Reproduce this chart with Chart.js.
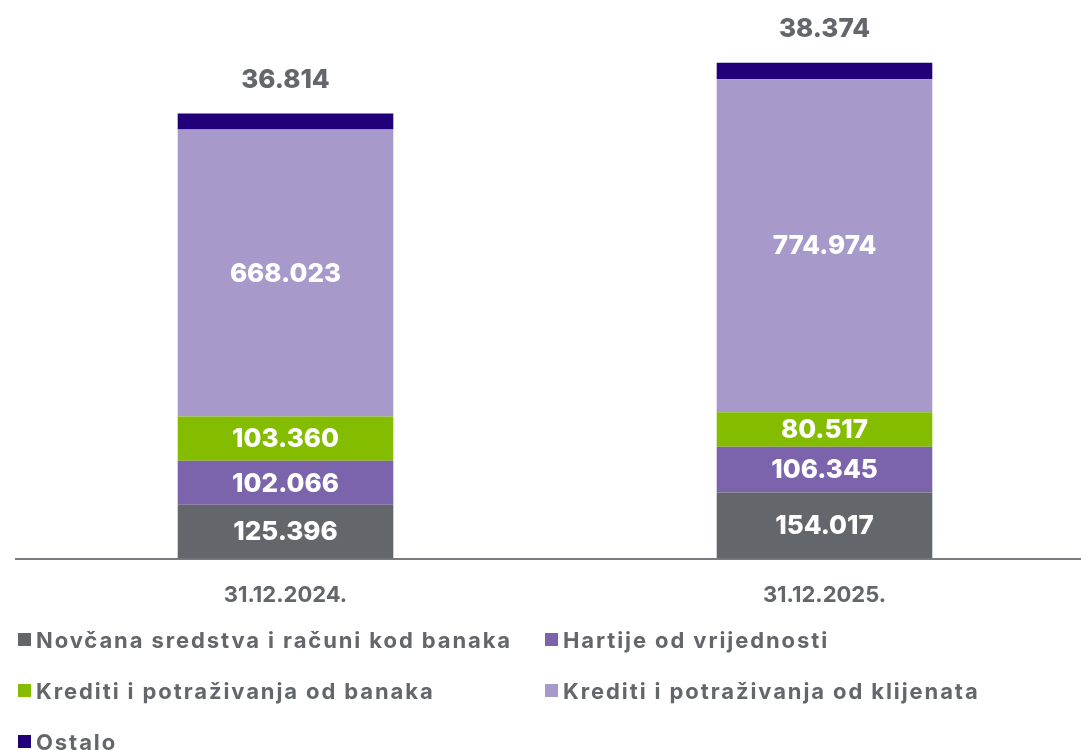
<!DOCTYPE html>
<html>
<head>
<meta charset="utf-8">
<script src="https://cdn.jsdelivr.net/npm/chart.js@4/dist/chart.umd.min.js"></script>
<style>
  html, body { margin: 0; padding: 0; background: #fff; overflow: hidden; }
  #wrap { position: relative; width: 1100px; height: 647px; }
  #legend {
    position: absolute; left: 18px; top: 626px; width: 1060px;
    display: grid; grid-template-columns: 527px 527px; row-gap: 24px;
    font-family: Inter, "Noto Sans", sans-serif; font-weight: 700; font-size: 22px;
    letter-spacing: 1.9px; color: #63666a;
  }
  .lg-item { display: flex; align-items: center; height: 27px; white-space: nowrap; }
  .lg-box { width: 13px; height: 13px; margin-right: 5px; flex: none; }
</style>
</head>
<body>
<div id="wrap"><canvas id="chart" width="1100" height="647"></canvas></div>
<div id="legend"></div>
<script>
  const categories = ["31.12.2024.", "31.12.2025."];
  const seriesNames = [
    "Novčana sredstva i računi kod banaka",
    "Hartije od vrijednosti",
    "Krediti i potraživanja od banaka",
    "Krediti i potraživanja od klijenata",
    "Ostalo"
  ];
  const seriesColors = ["#63666a", "#7b64ac", "#84bd00", "#a899cb", "#22007a"];
  const novcana = [125.396, 154.017];
  const hartije = [102.066, 106.345];
  const kreditiBanke = [103.360, 80.517];
  const kreditiKlijenti = [668.023, 774.974];
  const ostalo = [36.814, 38.374];
  const seriesValues = [novcana, hartije, kreditiBanke, kreditiKlijenti, ostalo];

  const fmt = v => v.toFixed(3);

  // segment labels: white inside the bar, last series above the bar in gray
  const barLabels = {
    id: 'barLabels',
    afterDatasetsDraw(chart) {
      const c = chart.ctx;
      const last = chart.data.datasets.length - 1;
      c.save();
      c.font = '800 26px Inter, "Noto Sans", sans-serif';
      c.textAlign = 'center';
      c.textBaseline = 'middle';
      chart.data.datasets.forEach((ds, i) => {
        const meta = chart.getDatasetMeta(i);
        meta.data.forEach((bar, j) => {
          const text = fmt(ds.data[j]);
          if (i === last) {
            c.fillStyle = '#63666a';
            c.fillText(text, bar.x, bar.y - 33);
          } else {
            c.fillStyle = '#ffffff';
            c.fillText(text, bar.x, (bar.y + bar.base) / 2 + 1);
          }
        });
      });
      c.restore();
    }
  };

  new Chart(document.getElementById('chart'), {
    type: 'bar',
    data: {
      labels: categories,
      datasets: seriesNames.map((name, i) => ({
        label: name,
        data: seriesValues[i],
        backgroundColor: seriesColors[i],
        borderWidth: 0,
        barPercentage: 0.8,
        categoryPercentage: 0.5
      }))
    },
    options: {
      responsive: false,
      animation: false,
      layout: { padding: { left: 16, right: 6, top: 43, bottom: 14 } },
      plugins: { legend: { display: false }, tooltip: { enabled: false } },
      scales: {
        x: {
          stacked: true,
          grid: { display: false, drawTicks: false },
          border: { display: true, color: '#7a7a80', width: 2 },
          ticks: {
            padding: 24,
            color: '#63666a',
            font: { family: 'Inter, "Noto Sans", sans-serif', size: 22, weight: '700' }
          }
        },
        y: { stacked: true, display: false, min: 0, max: 1200 }
      }
    },
    plugins: [barLabels]
  });

  const legend = document.getElementById('legend');
  seriesNames.forEach((name, i) => {
    const item = document.createElement('div');
    item.className = 'lg-item';
    item.innerHTML = `<span class="lg-box" style="background:${seriesColors[i]}"></span><span>${name}</span>`;
    legend.appendChild(item);
  });
</script>
</body>
</html>
